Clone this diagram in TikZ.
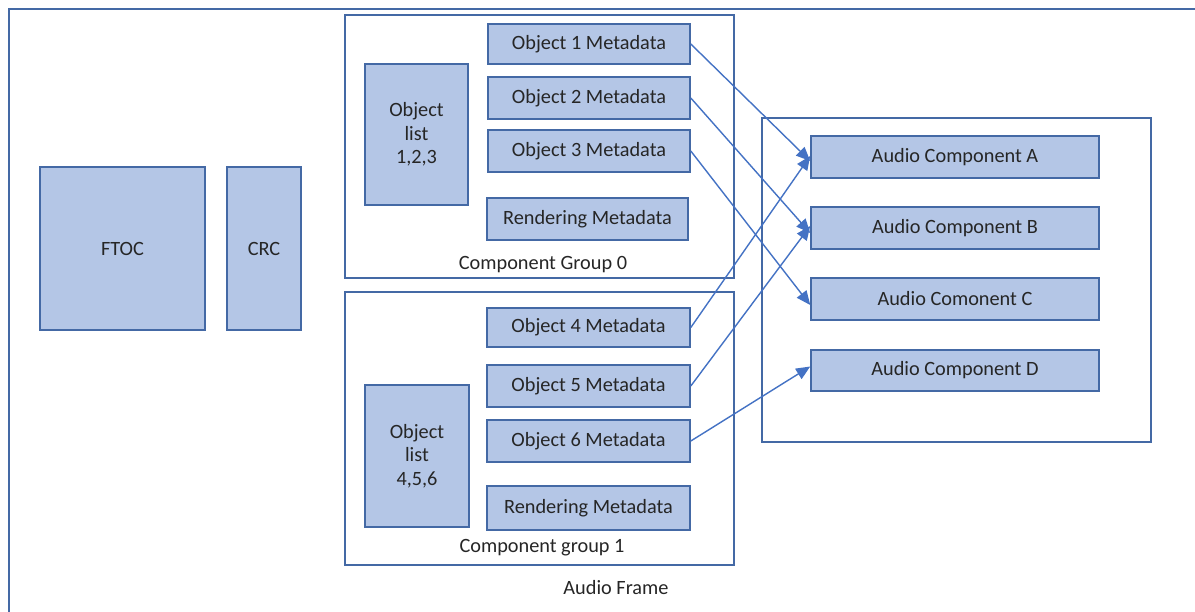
\documentclass[tikz,border=0pt]{standalone}
\usepackage{fontspec}
\setmainfont{Carlito}
\usetikzlibrary{arrows.meta}
\definecolor{fillc}{RGB}{180,198,230}
\definecolor{bord}{RGB}{68,105,165}
\definecolor{arrc}{RGB}{68,114,196}
\begin{document}
\begin{tikzpicture}[x=1pt,y=-1pt,
  blk/.style={draw=bord, fill=fillc, line width=1.6pt, inner sep=0pt, align=center,
    font=\fontsize{20.3}{23.5}\selectfont, text=black!85},
  grp/.style={draw=bord, line width=1.4pt, fill=white, inner sep=0pt},
  lbl/.style={font=\fontsize{20.3}{23.5}\selectfont, text=black!85, inner sep=0pt},
  arr/.style={draw=arrc, line width=1.4pt, -{Triangle[length=14pt,width=12pt]}}]
\useasboundingbox (0,0) rectangle (1195,612);
\clip (0,0) rectangle (1195,612);
\fill[white] (0,0) rectangle (1195,612);
\draw[bord, line width=1.4pt] (9,9) rectangle (1220,640);
% left blocks
\node[blk, minimum width=165pt, minimum height=163pt] (ftoc) at (122.5,248.5) {FTOC};
\node[blk, minimum width=74pt, minimum height=163pt] (crc) at (264,248.5) {CRC};
% group 0
\node[grp, minimum width=389pt, minimum height=263pt] (g0) at (539.5,146.5) {};
\node[blk, minimum width=103pt, minimum height=141pt] (l0) at (416.5,134.5) {Object\\list\\1,2,3};
\node[blk, minimum width=202pt, minimum height=40pt] (o1) at (589,44) {Object 1 Metadata};
\node[blk, minimum width=202pt, minimum height=42pt] (o2) at (589,98) {Object 2 Metadata};
\node[blk, minimum width=202pt, minimum height=42pt] (o3) at (589,151) {Object 3 Metadata};
\node[blk, minimum width=201pt, minimum height=42pt] (r0) at (587.5,219) {Rendering Metadata};
\node[lbl] (g0l) at (543,265) {Component Group 0};
% group 1
\node[grp, minimum width=389pt, minimum height=273pt] (g1) at (539.5,428.5) {};
\node[blk, minimum width=104pt, minimum height=142pt] (l1) at (417,456) {Object\\list\\4,5,6};
\node[blk, minimum width=203pt, minimum height=39pt] (o4) at (588.5,327.5) {Object 4 Metadata};
\node[blk, minimum width=203pt, minimum height=42pt] (o5) at (588.5,386) {Object 5 Metadata};
\node[blk, minimum width=203pt, minimum height=42pt] (o6) at (588.5,441) {Object 6 Metadata};
\node[blk, minimum width=203pt, minimum height=44pt] (r1) at (588.5,508) {Rendering Metadata};
\node[lbl] (g1l) at (542,548) {Component group 1};
\node[lbl] (af) at (616,588) {Audio Frame};
% right group
\node[grp, minimum width=389pt, minimum height=324pt] (gr) at (956.5,280) {};
\node[blk, minimum width=288pt, minimum height=42pt] (ca) at (955,157) {Audio Component A};
\node[blk, minimum width=288pt, minimum height=42pt] (cb) at (955,228) {Audio Component B};
\node[blk, minimum width=288pt, minimum height=42pt] (cc) at (955,299) {Audio Comonent C};
\node[blk, minimum width=288pt, minimum height=41pt] (cd) at (955,370.5) {Audio Component D};
% arrows
\draw[arr] (o1.east) -- ([yshift=-4pt]ca.west);
\draw[arr] (o2.east) -- ([yshift=-5pt]cb.west);
\draw[arr] (o3.east) -- ([yshift=-6pt]cc.west);
\draw[arr] (o4.east) -- ([yshift=1pt]ca.west);
\draw[arr] (o5.east) -- ([yshift=2pt]cb.west);
\draw[arr] (o6.east) -- ([yshift=4pt]cd.west);
\end{tikzpicture}
\end{document}
